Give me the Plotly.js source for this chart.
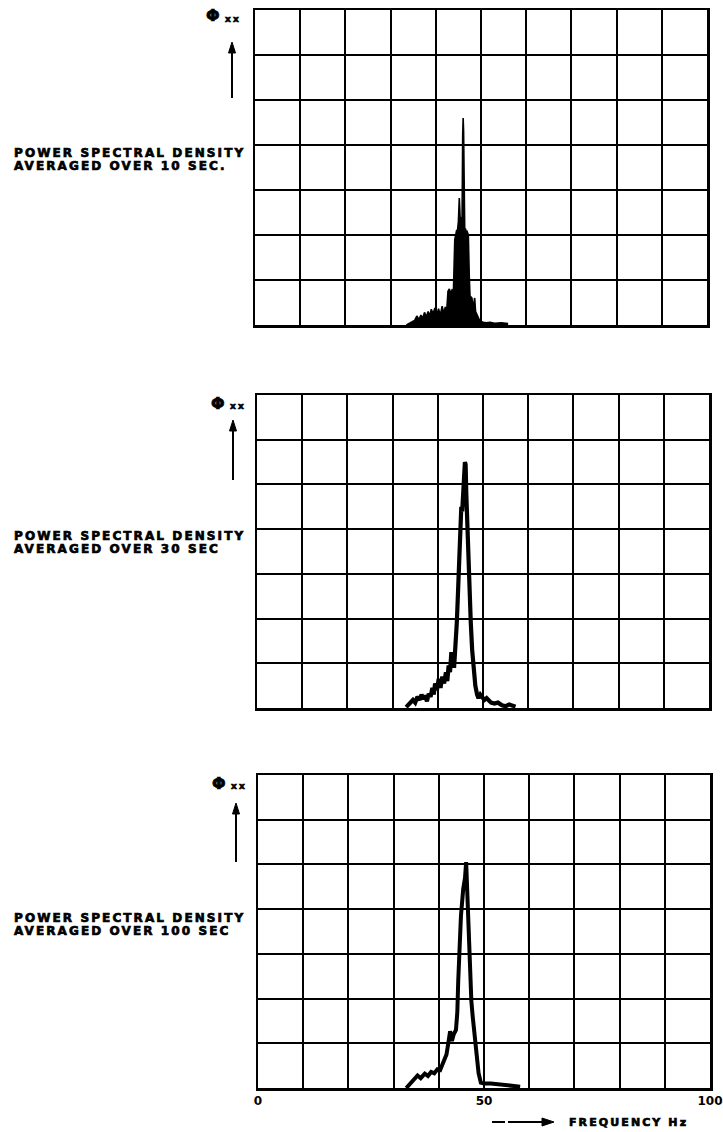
<!DOCTYPE html>
<html>
<head>
<meta charset="utf-8">
<script src="https://cdn.plot.ly/plotly-3.0.1.min.js"></script>
<style>
  html, body { margin: 0; padding: 0; background: #fff; }
  #chart { width: 723px; height: 1132px; }
  .annotation-text { letter-spacing: 2.1px; stroke: #000; stroke-width: 0.7px; }
  .xtick text { stroke: #000; stroke-width: 0.8px; }
</style>
</head>
<body>
<div id="chart"></div>
<script>
// ---- Data ----
// Panel 1: averaged over 10 sec
const freq10 = [33.5, 34.5, 35.3, 35.8, 36.3, 36.7, 37.1, 37.5, 37.9, 38.3, 38.7, 39.0, 39.4, 39.8, 40.2, 40.6, 41.0, 41.4, 41.8, 42.1, 42.4, 42.7, 43.0, 43.3, 43.6, 43.9, 44.2, 44.4, 44.6, 44.8, 45.0, 45.2, 45.35, 45.5, 45.65, 45.8, 45.95, 46.05, 46.15, 46.25, 46.4, 46.55, 46.7, 46.85, 47.0, 47.2, 47.4, 47.6, 47.8, 48.0, 48.2, 48.4, 48.6, 48.8, 49.0, 49.3, 49.6, 50.0, 50.5, 51.2, 52.0, 53.0, 54.5, 56.0];
const psd10  = [0.0, 0.05, 0.1, 0.2, 0.12, 0.22, 0.15, 0.28, 0.18, 0.3, 0.2, 0.35, 0.25, 0.38, 0.2, 0.36, 0.22, 0.42, 0.25, 0.4, 0.3, 0.75, 0.8, 0.7, 0.78, 0.75, 1.9, 2.0, 2.1, 2.1, 2.3, 2.82, 2.35, 2.1, 2.4, 2.2, 4.2, 4.6, 4.3, 2.2, 2.1, 2.15, 2.05, 2.1, 2.05, 2.0, 1.1, 0.55, 0.62, 0.6, 0.35, 0.55, 0.6, 0.3, 0.25, 0.2, 0.12, 0.08, 0.06, 0.05, 0.06, 0.04, 0.05, 0.03];

// Panel 2: averaged over 30 sec
const freq30 = [33.0, 33.8, 34.5, 35.0, 35.5, 36.0, 36.4, 36.8, 37.2, 37.6, 38.0, 38.4, 38.8, 39.1, 39.4, 39.8, 40.2, 40.6, 41.0, 41.4, 41.8, 42.1, 42.4, 42.7, 43.0, 43.2, 43.4, 43.6, 43.8, 44.0, 44.2, 44.4, 44.6, 44.8, 45.0, 45.2, 45.4, 45.6, 45.8, 46.0, 46.15, 46.3, 46.45, 46.6, 46.8, 47.0, 47.3, 47.6, 47.9, 48.3, 48.7, 49.0, 49.4, 49.8, 50.3, 50.8, 51.3, 51.8, 52.5, 53.3, 54.2, 55.0, 55.8, 56.5, 57.2];
const psd30  = [0.02, 0.1, 0.18, 0.12, 0.25, 0.18, 0.3, 0.2, 0.28, 0.15, 0.32, 0.25, 0.45, 0.3, 0.55, 0.4, 0.65, 0.45, 0.7, 0.55, 0.8, 0.6, 0.95, 0.8, 1.25, 1.0, 1.2, 0.9, 1.15, 1.5, 1.9, 2.4, 3.0, 3.7, 4.3, 4.5, 4.4, 4.8, 5.2, 5.5, 5.45, 4.8, 4.3, 3.6, 3.1, 2.5, 1.9, 1.3, 0.8, 0.5, 0.3, 0.22, 0.3, 0.25, 0.18, 0.22, 0.15, 0.12, 0.1, 0.12, 0.06, 0.04, 0.08, 0.05, 0.03];

// Panel 3: averaged over 100 sec
const freq100 = [32.8, 33.8, 34.6, 35.3, 36.0, 36.9, 37.6, 38.3, 39.0, 39.7, 40.3, 41.0, 41.7, 42.1, 42.5, 42.9, 43.3, 43.8, 44.1, 44.3, 44.6, 44.9, 45.4, 45.8, 46.05, 46.3, 46.5, 46.7, 46.9, 47.2, 47.5, 47.9, 48.2, 48.5, 48.8, 49.3, 50.0, 51.5, 53.5, 55.8, 58.0];
const psd100  = [0.0, 0.1, 0.2, 0.28, 0.22, 0.32, 0.27, 0.36, 0.33, 0.42, 0.4, 0.55, 0.75, 1.0, 1.27, 1.05, 1.2, 1.3, 1.7, 2.4, 3.1, 3.85, 4.45, 4.7, 5.05, 4.4, 3.85, 3.1, 2.35, 1.95, 1.6, 1.15, 0.85, 0.55, 0.33, 0.12, 0.1, 0.1, 0.08, 0.07, 0.03];

const gridVals = [0, 10, 20, 30, 40, 50, 60, 70, 80, 90, 100];
const xTickVals = [0, 50, 100];
const xTickText = ['0', '50', '100'];
const panelLabels = [
  ['POWER SPECTRAL DENSITY', 'AVERAGED OVER 10 SEC.'],
  ['POWER SPECTRAL DENSITY', 'AVERAGED OVER 30 SEC'],
  ['POWER SPECTRAL DENSITY', 'AVERAGED OVER 100 SEC']
];
const yLabelMain = 'Φ';
const yLabelSub = 'xx';
const xLabel = 'FREQUENCY Hz';

// ---- Layout helpers ----
const W = 723, H = 1132;
const px = v => v / W;
const py = v => 1 - v / H;
const FONT = 'DejaVu Sans';

// panel boxes in pixels: [left, right, top, bottom]
const boxes = [
  [255, 707, 10, 325],
  [257, 709, 395, 708],
  [258, 710, 775, 1088]
];

function xaxis(i, labels) {
  const b = boxes[i];
  return {
    domain: [px(b[0]), px(b[1])],
    range: [0, 100], anchor: 'y' + (i ? i + 1 : ''),
    tickmode: 'array',
    tickvals: labels ? xTickVals : gridVals,
    ticktext: labels ? xTickText : gridVals.map(String),
    showticklabels: !!labels, ticks: '',
    tickfont: {family: FONT, size: 12, color: '#000', weight: 'bold'},
    showgrid: true, gridcolor: '#000', gridwidth: 2,
    minor: labels ? {tickmode: 'array', tickvals: gridVals, showgrid: true, gridcolor: '#000', gridwidth: 2, ticks: ''} : undefined,
    showline: true, mirror: true, linecolor: '#000', linewidth: 2.5,
    zeroline: false, fixedrange: true
  };
}
function yaxis(i) {
  const b = boxes[i];
  return {
    domain: [py(b[3]), py(b[2])],
    range: [0, 7], anchor: 'x' + (i ? i + 1 : ''),
    dtick: 1, tick0: 0, showticklabels: false, ticks: '',
    showgrid: true, gridcolor: '#000', gridwidth: 2,
    showline: true, mirror: true, linecolor: '#000', linewidth: 2.5,
    zeroline: false, fixedrange: true
  };
}

const traces = [
  {x: freq10, y: psd10, xaxis: 'x', yaxis: 'y', mode: 'lines', fill: 'tozeroy',
   fillcolor: '#000', line: {color: '#000', width: 1.6}},
  {x: freq30, y: psd30, xaxis: 'x2', yaxis: 'y2', mode: 'lines',
   line: {color: '#000', width: 4.2}},
  {x: freq100, y: psd100, xaxis: 'x3', yaxis: 'y3', mode: 'lines',
   line: {color: '#000', width: 4}}
];

const annotations = [];
const shapes = [];
const textY = [[153, 166], [536, 549], [918, 931]];
const phiPos = [[214, 16], [219, 403], [220, 783]];
const arrowPos = [[232, 42, 98], [233, 420, 480], [236, 803, 862]];

function upArrow(x, head, tail) {
  shapes.push({type: 'line', xref: 'paper', yref: 'paper',
    x0: px(x), x1: px(x), y0: py(tail), y1: py(head + 8), line: {color: '#000', width: 2}});
  shapes.push({type: 'path', xref: 'paper', yref: 'paper',
    path: `M ${px(x - 3.5)} ${py(head + 11)} L ${px(x)} ${py(head)} L ${px(x + 3.5)} ${py(head + 11)} Z`,
    fillcolor: '#000', line: {color: '#000', width: 1}});
}
function rightArrow(x0, x1, y) {
  shapes.push({type: 'line', xref: 'paper', yref: 'paper',
    x0: px(x0), x1: px(x1 - 8), y0: py(y), y1: py(y), line: {color: '#000', width: 2}});
  shapes.push({type: 'path', xref: 'paper', yref: 'paper',
    path: `M ${px(x1 - 12)} ${py(y - 4)} L ${px(x1)} ${py(y)} L ${px(x1 - 12)} ${py(y + 4)} Z`,
    fillcolor: '#000', line: {color: '#000', width: 1}});
}

for (let i = 0; i < 3; i++) {
  for (let j = 0; j < 2; j++) {
    annotations.push({
      xref: 'paper', yref: 'paper', x: px(12), y: py(textY[i][j]),
      xanchor: 'left', yanchor: 'middle', showarrow: false,
      text: '<b>' + panelLabels[i][j] + '</b>',
      font: {family: FONT, size: 12, color: '#000'}
    });
  }
  annotations.push({
    xref: 'paper', yref: 'paper', x: px(phiPos[i][0]), y: py(phiPos[i][1]),
    xanchor: 'center', yanchor: 'middle', showarrow: false,
    text: '<b>' + yLabelMain + '</b>', font: {family: FONT, size: 16, color: '#000'}
  });
  annotations.push({
    xref: 'paper', yref: 'paper', x: px(phiPos[i][0] + 9), y: py(phiPos[i][1] + 3),
    xanchor: 'left', yanchor: 'middle', showarrow: false,
    text: '<b>' + yLabelSub + '</b>', font: {family: FONT, size: 9, color: '#000'}
  });
  const a = arrowPos[i];
  upArrow(a[0], a[1], a[2]);
}
// frequency label with arrow
annotations.push({
  xref: 'paper', yref: 'paper', x: px(567), y: py(1122),
  xanchor: 'left', yanchor: 'middle', showarrow: false,
  text: '<b>' + xLabel + '</b>', font: {family: FONT, size: 11, color: '#000'}
});
rightArrow(508, 554, 1122);
shapes.push({type: 'line', xref: 'paper', yref: 'paper', x0: px(492), x1: px(505), y0: py(1122), y1: py(1122),
   line: {color: '#000', width: 2}});

const layout = {
  width: W, height: H,
  margin: {l: 0, r: 0, t: 0, b: 0},
  paper_bgcolor: '#fff', plot_bgcolor: '#fff',
  showlegend: false,
  xaxis: xaxis(0, false), yaxis: yaxis(0),
  xaxis2: xaxis(1, false), yaxis2: yaxis(1),
  xaxis3: xaxis(2, true), yaxis3: yaxis(2),
  annotations: annotations,
  shapes: shapes
};

Plotly.newPlot('chart', traces, layout, {staticPlot: true, displayModeBar: false});
</script>
</body>
</html>
